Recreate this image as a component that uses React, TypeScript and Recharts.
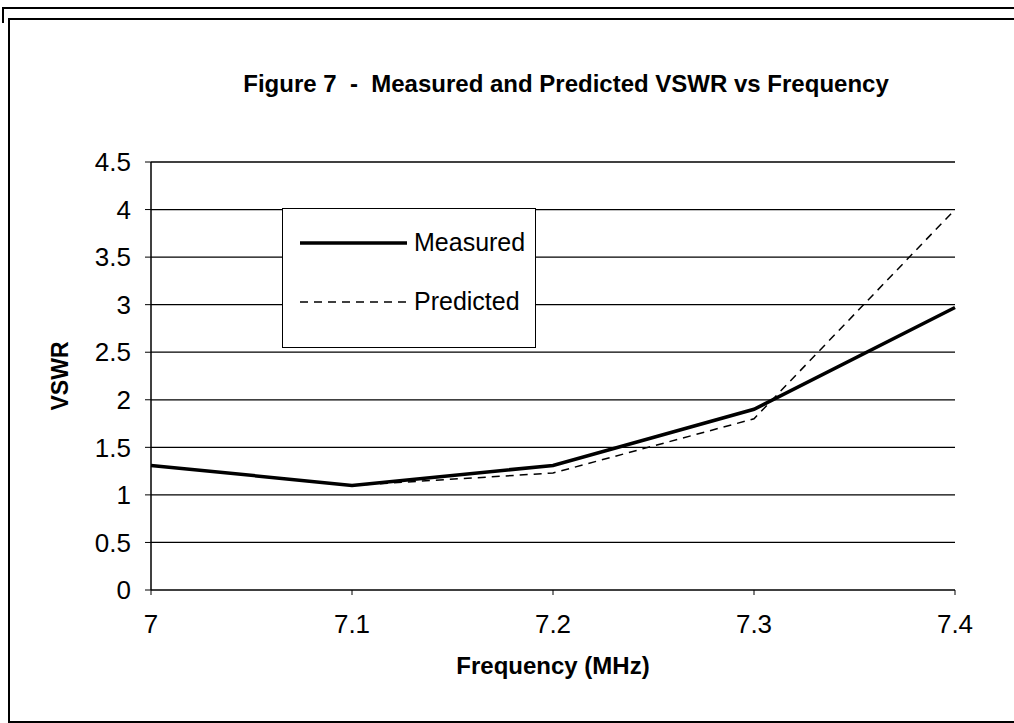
import React from 'react';
import { LineChart, Line, XAxis, YAxis, CartesianGrid, Label } from 'recharts';

const frequencies = [7.0, 7.1, 7.2, 7.3, 7.4];
const measured = [1.31, 1.1, 1.31, 1.9, 2.97];
const predicted: (number | null)[] = [null, 1.1, 1.23, 1.8, 4.0];
const xTicks = [7, 7.1, 7.2, 7.3, 7.4];
const yTicks = [0, 0.5, 1, 1.5, 2, 2.5, 3, 3.5, 4, 4.5];
const seriesNames = ['Measured', 'Predicted'];

const data = frequencies.map((f, i) => ({
  freq: f,
  measured: measured[i],
  predicted: predicted[i],
}));

const font = '"Liberation Sans", Arial, sans-serif';

const LegendBox = () => (
  <div
    style={{
      position: 'absolute',
      left: 282,
      top: 208,
      width: 252,
      height: 138,
      border: '1.5px solid #000',
      background: '#fff',
      fontFamily: font,
      fontSize: 25,
      color: '#000',
    }}
  >
    <svg width={110} height={138} style={{ position: 'absolute', left: 17, top: 0 }}>
      <line x1={0} y1={34} x2={107} y2={34} stroke="#000" strokeWidth={3.5} />
      <line x1={0} y1={93} x2={107} y2={93} stroke="#000" strokeWidth={1.5} strokeDasharray="8 6" />
    </svg>
    <div style={{ position: 'absolute', left: 131, top: 19 }}>{seriesNames[0]}</div>
    <div style={{ position: 'absolute', left: 131, top: 78 }}>{seriesNames[1]}</div>
  </div>
);

export default function App() {
  return (
    <div style={{ position: 'absolute', left: 0, top: 0, width: 1014, height: 723, background: '#fff', overflow: 'hidden' }}>
      <div
        style={{
          position: 'absolute',
          left: 2,
          top: 7,
          width: 1012,
          height: 14,
          borderTop: '2px solid #000',
          borderLeft: '2px solid #000',
        }}
      />
      <div
        style={{
          position: 'absolute',
          left: 8,
          top: 18,
          width: 1006,
          height: 701,
          borderTop: '2px solid #000',
          borderLeft: '2px solid #000',
          borderBottom: '2px solid #000',
        }}
      />
      <div
        style={{
          position: 'absolute',
          left: 0,
          top: 70,
          width: 1132,
          textAlign: 'center',
          fontFamily: font,
          fontWeight: 'bold',
          fontSize: 24,
          color: '#000',
        }}
      >
        Figure 7&nbsp;&nbsp;-&nbsp;&nbsp;Measured and Predicted VSWR vs Frequency
      </div>
      <div style={{ position: 'absolute', left: 0, top: 0 }}>
        <LineChart width={1014} height={723} data={data} margin={{ top: 162, right: 59, left: 0, bottom: 0 }}>
          <CartesianGrid horizontal={true} vertical={false} stroke="#000" strokeWidth={1.3} />
          <XAxis
            dataKey="freq"
            type="number"
            domain={[7, 7.4]}
            ticks={xTicks}
            height={133}
            axisLine={false}
            tickLine={{ stroke: '#000' }}
            tickSize={5}
            tickMargin={20}
            tick={{ fill: '#000', fontSize: 26, fontFamily: font }}
          >
            <Label
              value="Frequency (MHz)"
              position="insideBottom"
              offset={49}
              style={{ fill: '#000', fontSize: 24, fontWeight: 'bold', fontFamily: font }}
            />
          </XAxis>
          <YAxis
            type="number"
            domain={[0, 4.5]}
            ticks={yTicks}
            width={151}
            axisLine={{ stroke: '#000', strokeWidth: 1.5 }}
            tickLine={{ stroke: '#000' }}
            tickSize={6}
            tickMargin={14}
            tick={{ fill: '#000', fontSize: 26, fontFamily: font }}
          >
            <Label
              content={(props: any) => {
                const vb = props.viewBox || { x: 0, y: 162, width: 151, height: 428 };
                const cx = 60;
                const cy = vb.y + vb.height / 2;
                return (
                  <text
                    x={cx}
                    y={cy}
                    transform={`rotate(-90 ${cx} ${cy})`}
                    textAnchor="middle"
                    dominantBaseline="central"
                    style={{ fill: '#000', fontSize: 23, fontWeight: 'bold', fontFamily: font }}
                  >
                    VSWR
                  </text>
                );
              }}
            />
          </YAxis>
          <Line
            type="linear"
            dataKey="measured"
            name={seriesNames[0]}
            stroke="#000"
            strokeWidth={3.5}
            dot={false}
            isAnimationActive={false}
          />
          <Line
            type="linear"
            dataKey="predicted"
            name={seriesNames[1]}
            stroke="#000"
            strokeWidth={1.5}
            strokeDasharray="8 6"
            dot={false}
            connectNulls={false}
            isAnimationActive={false}
          />
        </LineChart>
      </div>
      <LegendBox />
    </div>
  );
}
